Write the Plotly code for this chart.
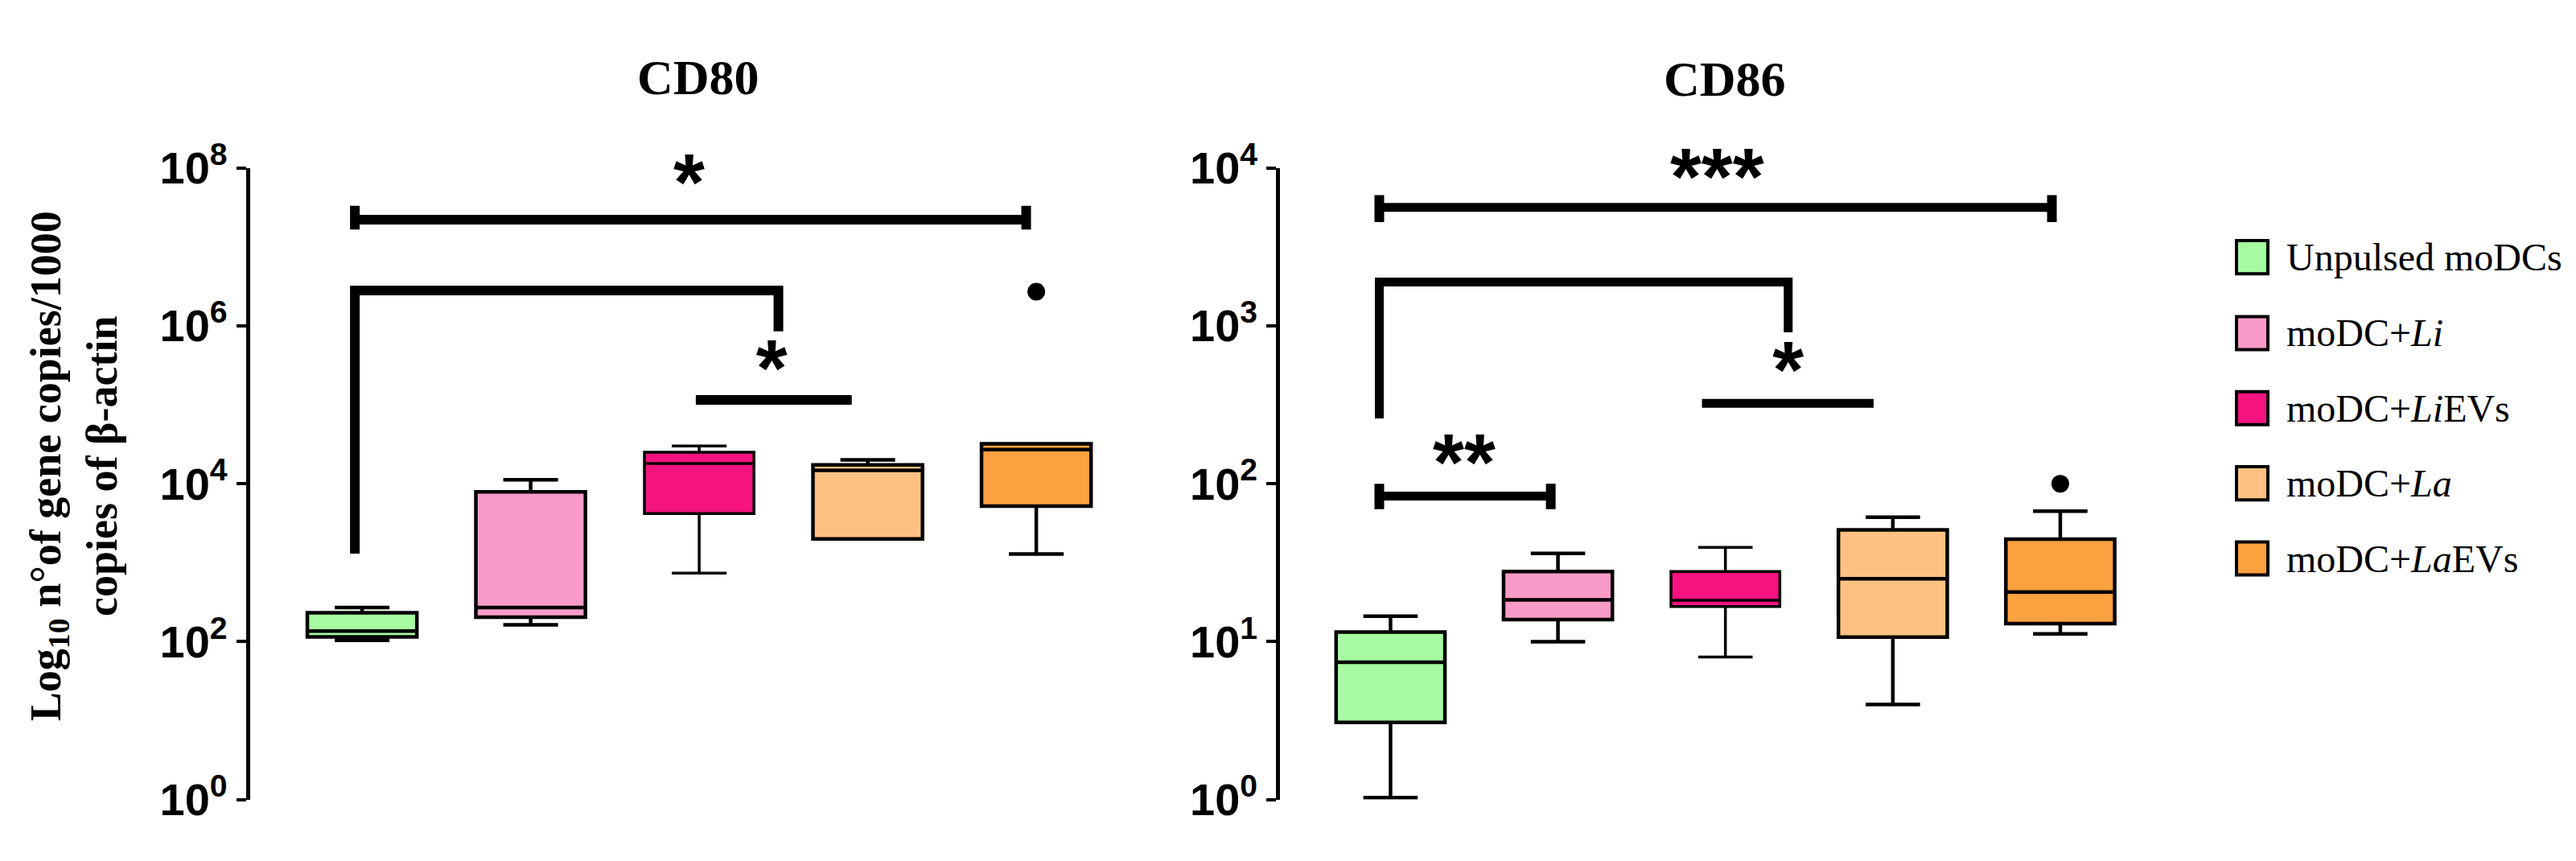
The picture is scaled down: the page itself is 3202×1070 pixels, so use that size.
import plotly.graph_objects as go

# ---------------- data ----------------
groups = ["Unpulsed moDCs", "moDC+<i>Li</i>", "moDC+<i>Li</i>EVs", "moDC+<i>La</i>", "moDC+<i>La</i>EVs"]
colors = ["#A6FBA0", "#F99BC9", "#F5137F", "#FFC282", "#FCA13F"]
positions = [0, 1, 2, 3, 4]

cd80_low = [104, 163, 740, 2000, 1290]
cd80_q1 = [115, 204, 4200, 2000, 5200]
cd80_med = [136, 270, 18000, 14800, 27000]
cd80_q3 = [232, 7870, 25000, 17300, 32000]
cd80_high = [270, 11200, 30000, 20000, 32000]
cd80_outlier_x = [4]
cd80_outlier_y = [2.7e6]

cd86_low = [1.03, 10, 8.0, 4.0, 11.2]
cd86_q1 = [3.08, 13.8, 16.7, 10.7, 13.0]
cd86_med = [7.4, 18.4, 18.3, 25, 20.6]
cd86_q3 = [11.5, 27.8, 27.8, 51, 44.6]
cd86_high = [14.5, 36.2, 39.5, 61.4, 67]
cd86_outlier_x = [4]
cd86_outlier_y = [100]

# significance brackets: (x list, y list, line width)
cd80_brackets = [
    ([-0.043, 3.94], [2.2e7, 2.2e7], 12),
    ([-0.043, -0.043], [3.3e7, 1.65e7], 12),
    ([3.94, 3.94], [3.3e7, 1.65e7], 12),
    ([-0.043, -0.043, 2.47, 2.47], [1300, 2.8e6, 2.8e6, 8.5e5], 12),
    ([1.98, 2.905], [1.15e5, 1.15e5], 12),
]
cd80_stars = [("*", 1.94, 10 ** 7.72), ("*", 2.43, 10 ** 5.37)]

cd86_brackets = [
    ([-0.067, 3.95], [5610, 5610], 11),
    ([-0.067, -0.067], [6710, 4530], 12),
    ([3.95, 3.95], [6710, 4530], 12),
    ([-0.067, -0.067, 2.375, 2.375], [259, 1890, 1890, 908], 11),
    ([1.86, 2.885], [323, 323], 11),
    ([-0.067, 0.957], [83.6, 83.6], 11),
    ([-0.067, -0.067], [100, 69], 12),
    ([0.957, 0.957], [100, 69], 12),
]
cd86_stars = [("***", 1.95, 10 ** 3.895), ("*", 2.375, 10 ** 2.674), ("**", 0.44, 10 ** 2.089)]

fig = go.Figure()

def add_panel(xa, ya, low, q1, med, q3, high, ox, oy, brackets, stars):
    for i in range(len(groups)):
        fig.add_trace(go.Box(
            x=[positions[i]], q1=[q1[i]], median=[med[i]], q3=[q3[i]],
            lowerfence=[low[i]], upperfence=[high[i]],
            width=0.65, whiskerwidth=0.5,
            fillcolor=colors[i], line=dict(color="black", width=3.5 if i == 2 else 4.5),
            boxpoints=False, showlegend=False, hoverinfo="skip",
            xaxis=xa, yaxis=ya))
    fig.add_trace(go.Scatter(x=ox, y=oy, mode="markers",
                             marker=dict(color="black", size=22),
                             showlegend=False, xaxis=xa, yaxis=ya))
    for bx, by, w in brackets:
        fig.add_trace(go.Scatter(x=bx, y=by, mode="lines",
                                 line=dict(color="black", width=w),
                                 showlegend=False, hoverinfo="skip", xaxis=xa, yaxis=ya))
    for t, sx, sy in stars:
        fig.add_trace(go.Scatter(x=[sx], y=[sy], mode="text", text=[t],
                                 textposition="middle center", cliponaxis=False,
                                 textfont=dict(family="Liberation Sans", size=100, color="black", weight="bold"),
                                 showlegend=False, hoverinfo="skip", xaxis=xa, yaxis=ya))

add_panel("x", "y", cd80_low, cd80_q1, cd80_med, cd80_q3, cd80_high,
          cd80_outlier_x, cd80_outlier_y, cd80_brackets, cd80_stars)
add_panel("x2", "y2", cd86_low, cd86_q1, cd86_med, cd86_q3, cd86_high,
          cd86_outlier_x, cd86_outlier_y, cd86_brackets, cd86_stars)

tickfont = dict(family="Liberation Sans", size=56, color="black", weight="bold")
ydom = [0.0523, 0.8383]
yaxis_common = dict(type="log", showline=True, linecolor="black", linewidth=4.5,
                    ticks="outside", ticklen=12, tickwidth=4, tickcolor="black",
                    showgrid=False, zeroline=False, tickfont=tickfont, domain=ydom)

fig.update_layout(
    width=3202, height=1070,
    margin=dict(l=0, r=0, t=0, b=0),
    paper_bgcolor="white", plot_bgcolor="white",
    xaxis=dict(domain=[0.0945, 0.4325], range=[-0.666, 4.5], visible=False),
    xaxis2=dict(domain=[0.4944, 0.8298], range=[-0.66, 4.5], visible=False),
    yaxis=dict(range=[0, 8], anchor="x",
               tickvals=[1, 1e2, 1e4, 1e6, 1e8],
               ticktext=["10<sup>0</sup>", "10<sup>2</sup>", "10<sup>4</sup>", "10<sup>6</sup>", "10<sup>8</sup>"],
               **yaxis_common),
    yaxis2=dict(range=[0, 4], anchor="x2",
                tickvals=[1, 10, 100, 1000, 10000],
                ticktext=["10<sup>0</sup>", "10<sup>1</sup>", "10<sup>2</sup>", "10<sup>3</sup>", "10<sup>4</sup>"],
                **yaxis_common),
)

serif_bold = dict(family="Liberation Serif", color="black", weight="bold")
annotations = [
    dict(text="CD80", x=860 / 3202, y=1 - 53 / 1070, xref="paper", yref="paper",
         showarrow=False, font=dict(size=62, **serif_bold), xanchor="center", yanchor="middle"),
    dict(text="CD86", x=2136 / 3202, y=1 - 55 / 1070, xref="paper", yref="paper",
         showarrow=False, font=dict(size=62, **serif_bold), xanchor="center", yanchor="middle"),
    dict(text="Log<sub>10</sub> n°of gene copies/1000<br>copies of β-actin",
         x=84 / 3202, y=1 - 570 / 1070, xref="paper", yref="paper", textangle=-90,
         showarrow=False, font=dict(size=54, **serif_bold), xanchor="center", yanchor="middle"),
]

legend_y = [292, 393, 493, 593, 693]
shapes = []
for i, name in enumerate(groups):
    yc = legend_y[i]
    shapes.append(dict(type="rect", xref="paper", yref="paper",
                       x0=2772 / 3202, x1=2811 / 3202,
                       y0=1 - (yc + 22) / 1070, y1=1 - (yc - 22) / 1070,
                       fillcolor=colors[i], line=dict(color="black", width=4)))
    annotations.append(dict(text=name, x=2832 / 3202, y=1 - yc / 1070, xref="paper", yref="paper",
                            showarrow=False, xanchor="left", yanchor="middle",
                            font=dict(family="Liberation Serif", size=48, color="black")))

fig.update_layout(annotations=annotations, shapes=shapes)
fig.write_html("out.html")
